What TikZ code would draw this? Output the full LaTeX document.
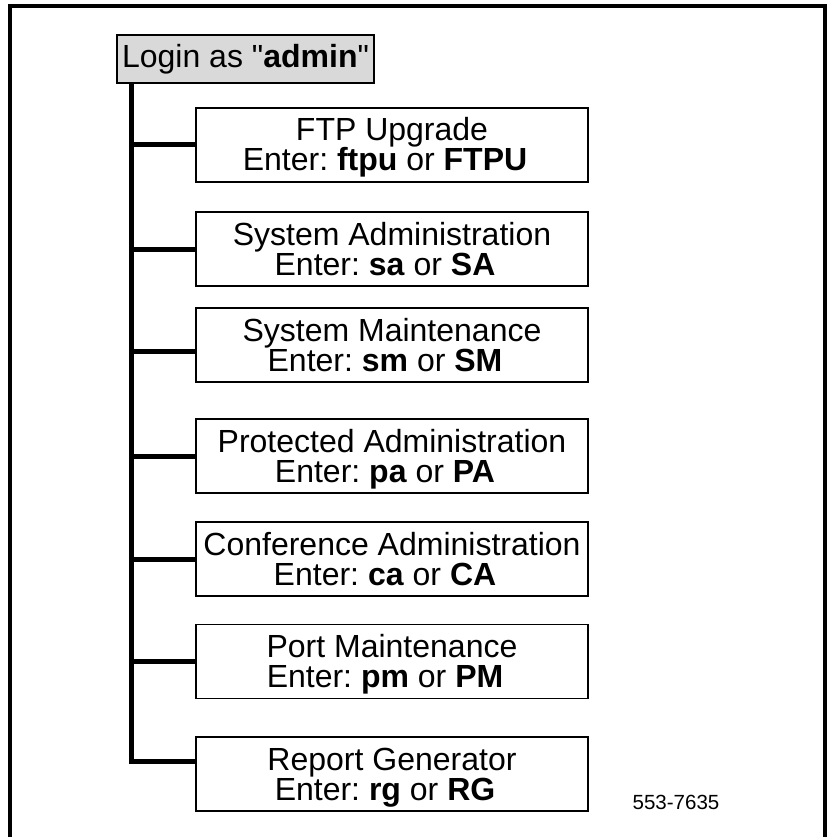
\documentclass[tikz,border=0pt]{standalone}
\usepackage{fontspec}
\setmainfont{Liberation Sans}[Ligatures=TeXOff]
\frenchspacing
\newcommand\boxfont{\fontsize{32}{30}\selectfont}
\newcommand\codefont{\fontsize{20.5}{22}\selectfont}
% invisible rules that give every two-line box the same vertical extent;
% the trailing space sets the second line slightly left of centre
\newcommand\upstrut{\rule{0pt}{29pt}}
\newcommand\lowstrut{\rule[-7pt]{0pt}{7pt}\hspace*{14pt}}
\begin{document}
\begin{tikzpicture}[x=1pt,y=-1pt,
  menubox/.style={draw=black, line width=1.8pt, minimum width=392pt,
    minimum height=74pt, inner sep=0pt, align=center, font=\boxfont},
  loginbox/.style={draw=black, line width=1.8pt, fill=black!15,
    minimum width=257pt, minimum height=48pt, inner sep=0pt, font=\boxfont},
  branch/.style={line width=5pt, line join=miter},
  frameline/.style={line width=4pt}]
\useasboundingbox (0,0) rectangle (831,837);

% open frame (no bottom edge)
\draw[frameline] (10,837) -- (10,6) -- (825,6) -- (825,837);

% root node
\node[loginbox] (login) at (245.5,59) {Login as "\textbf{admin}"};

% menu entries
\node[menubox] (ftp) at (392,145) {\upstrut FTP Upgrade\\Enter: \textbf{ftpu} or \textbf{FTPU}\lowstrut};
\node[menubox] (sa)  at (392,249) {\upstrut System Administration\\Enter: \textbf{sa} or \textbf{SA}\lowstrut};
\node[menubox] (sm)  at (392,345) {\upstrut System Maintenance\\Enter: \textbf{sm} or \textbf{SM}\lowstrut};
\node[menubox] (pa)  at (392,456) {\upstrut Protected Administration\\Enter: \textbf{pa} or \textbf{PA}\lowstrut};
\node[menubox] (ca)  at (392,559) {\upstrut Conference Administration\\Enter: \textbf{ca} or \textbf{CA}\lowstrut};
\node[menubox] (pm)  at (392,661.5) {\upstrut Port Maintenance\\Enter: \textbf{pm} or \textbf{PM}\lowstrut};
\node[menubox] (rg)  at (392,774) {\upstrut Report Generator\\Enter: \textbf{rg} or \textbf{RG}\lowstrut};

% figure number
\node[font=\codefont, inner sep=0pt] (fignum) at (676,802) {553-7635};

% trunk and branches
\coordinate (tx) at (131,0);
\coordinate (rgjoin) at ([yshift=13pt]rg.west);
\draw[branch] (login.south -| tx) -- (rgjoin -| tx) -- (rgjoin);
\draw[branch] (ftp.west -| tx) -- (ftp.west);
\draw[branch] (sa.west -| tx) -- (sa.west);
\draw[branch] ([yshift=-6pt]sm.west -| tx) -- ([yshift=-6pt]sm.west);
\draw[branch] (pa.west -| tx) -- (pa.west);
\draw[branch] (ca.west -| tx) -- (ca.west);
\draw[branch] (pm.west -| tx) -- (pm.west);
\end{tikzpicture}
\end{document}
